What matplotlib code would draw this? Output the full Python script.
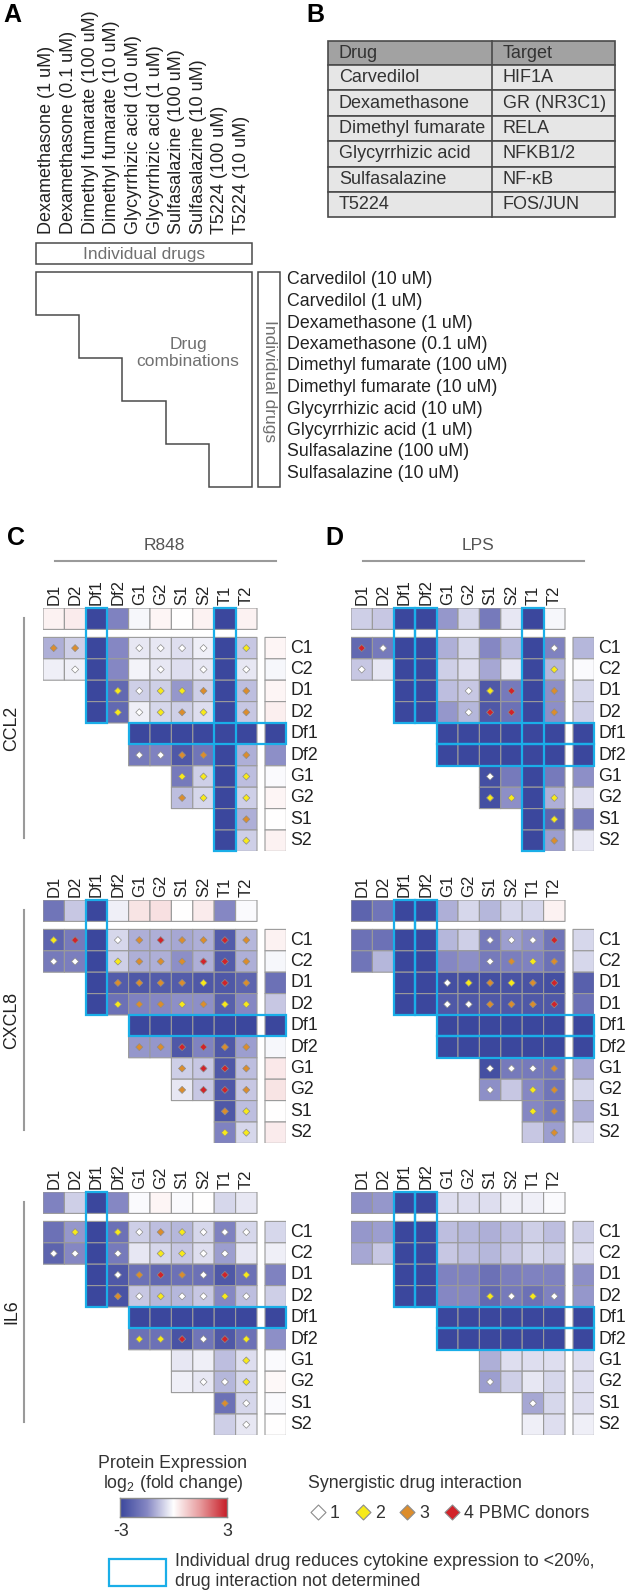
import numpy as np
import matplotlib
matplotlib.use("Agg")
import matplotlib.pyplot as plt
from matplotlib.colors import LinearSegmentedColormap
from matplotlib.patches import Rectangle, Polygon

W, H = 627, 1593
plt.rcParams["font.family"] = ["Liberation Sans", "DejaVu Sans"]
plt.rcParams["mathtext.fontset"] = "custom"
plt.rcParams["mathtext.rm"] = "Liberation Sans"
plt.rcParams["mathtext.it"] = "Liberation Sans:italic"

# ---- panel A / B text ----
COMBO_DRUGS = ["Dexamethasone (1 uM)", "Dexamethasone (0.1 uM)", "Dimethyl fumarate (100 uM)",
               "Dimethyl fumarate (10 uM)", "Glycyrrhizic acid (10 uM)", "Glycyrrhizic acid (1 uM)",
               "Sulfasalazine (100 uM)", "Sulfasalazine (10 uM)", "T5224 (100 uM)", "T5224 (10 uM)"]
ROW_DRUGS = ["Carvedilol (10 uM)", "Carvedilol (1 uM)", "Dexamethasone (1 uM)", "Dexamethasone (0.1 uM)",
             "Dimethyl fumarate (100 uM)", "Dimethyl fumarate (10 uM)", "Glycyrrhizic acid (10 uM)",
             "Glycyrrhizic acid (1 uM)", "Sulfasalazine (100 uM)", "Sulfasalazine (10 uM)"]
TABLE_DRUG = ["Carvedilol", "Dexamethasone", "Dimethyl fumarate", "Glycyrrhizic acid", "Sulfasalazine", "T5224"]
TABLE_TARGET = ["HIF1A", "GR (NR3C1)", "RELA", "NFKB1/2", "NF-\u03baB", "FOS/JUN"]

COLS = ["D1", "D2", "Df1", "Df2", "G1", "G2", "S1", "S2", "T1", "T2"]
ROWS = ["C1", "C2", "D1", "D2", "Df1", "Df2", "G1", "G2", "S1", "S2"]
ROWS_TYPO = ["C1", "C2", "D1", "D1", "Df1", "Df2", "G1", "G2", "S1", "S2"]

# ---- heatmap values: log2 fold change; rows of the triangle start at column 2*(row//2) ----
CCL2_R848_TOP = [0.2, 0.3, -3, -1.6, -0.1, 0.15, 0, 0.2, -3, 0.2]
CCL2_R848_RIGHT = [0.15, -0.1, 0.15, 0.25, -3, -1.4, -0.05, 0.15, 0, 0.2]
CCL2_R848_MAT = [[-1.0, -0.6, -3, -1.5, -0.3, -0.3, -0.4, -0.2, -3, -0.7],
                 [-0.2, -0.2, -3, -1.5, -0.15, -0.3, -0.4, -0.3, -3, -0.3],
                 [-3, -2.2, -0.6, -0.6, -1.3, -0.6, -3, -0.8],
                 [-3, -2.2, -0.2, -0.5, -0.6, -0.4, -3, -0.7],
                 [-3, -3, -3, -3, -3, -3],
                 [-1.8, -1.6, -2.6, -1.9, -3, -1.0],
                 [-1.8, -0.6, -3, -0.8],
                 [-0.8, -0.5, -3, -0.6],
                 [-3, -1.0],
                 [-3, -0.6]]
CCL2_R848_SYN = [[3, 3, 0, 0, 1, 1, 1, 1, 0, 2],
                 [0, 1, 0, 0, 0, 1, 0, 1, 0, 1],
                 [0, 2, 1, 2, 2, 3, 0, 3],
                 [0, 2, 1, 2, 3, 2, 0, 3],
                 [0, 0, 0, 0, 0, 0],
                 [1, 1, 3, 3, 0, 3],
                 [2, 2, 0, 2],
                 [3, 2, 0, 2],
                 [0, 3],
                 [0, 2]]
CCL2_R848_BCOLS, CCL2_R848_BROWS = ["Df1", "T1"], ["Df1"]

CCL2_LPS_TOP = [-0.6, -0.7, -3, -3, -1.3, -0.5, -1.8, -0.3, -3, -0.1]
CCL2_LPS_RIGHT = [-0.9, -0.05, -0.5, -0.6, -3, -3, -1.4, -0.4, -1.8, -0.3]
CCL2_LPS_MAT = [[-2.2, -1.8, -3, -3, -1.0, -0.5, -1.5, -0.9, -3, -1.6],
                [-0.7, -0.3, -3, -3, -0.6, -0.4, -1.1, -0.3, -3, -0.9],
                [-3, -3, -0.8, -0.7, -2.6, -1.8, -3, -1.4],
                [-3, -3, -1.3, -0.9, -2.6, -2.0, -3, -1.4],
                [-3, -3, -3, -3, -3, -3],
                [-3, -3, -3, -3, -3, -3],
                [-2.8, -1.8, -3, -1.8],
                [-2.8, -1.4, -3, -1.0],
                [-3, -2.3],
                [-3, -1.2]]
CCL2_LPS_SYN = [[4, 1, 0, 0, 0, 0, 0, 0, 0, 1],
                [1, 0, 0, 0, 0, 0, 0, 0, 0, 2],
                [0, 0, 0, 1, 2, 4, 0, 3],
                [0, 0, 0, 1, 4, 4, 0, 3],
                [0, 0, 0, 0, 0, 0],
                [0, 0, 0, 0, 0, 0],
                [1, 0, 0, 0],
                [2, 2, 0, 2],
                [0, 2],
                [0, 3]]
CCL2_LPS_BCOLS, CCL2_LPS_BROWS = ["Df1", "Df2", "T1"], ["Df1", "Df2"]

CXCL8_R848_TOP = [-1.9, -0.7, -3, -0.2, 0.4, 0.45, 0, 0.3, -1.5, -0.05]
CXCL8_R848_RIGHT = [0.2, -0.1, -2.0, -0.7, -3, -0.1, 0.35, 0.4, 0.02, 0.3]
CXCL8_R848_MAT = [[-2.3, -1.8, -3, -0.5, -1.0, -1.0, -1.1, -1.0, -2.5, -0.9],
                  [-1.8, -1.7, -3, -0.6, -1.0, -1.0, -1.4, -1.0, -2.5, -1.0],
                  [-3, -2.5, -2.6, -2.5, -2.5, -2.6, -2.6, -2.3],
                  [-3, -2.0, -1.6, -1.5, -1.4, -1.4, -2.4, -1.5],
                  [-3, -3, -3, -3, -3, -3],
                  [-1.3, -1.3, -2.6, -1.6, -2.6, -1.2],
                  [-0.6, -0.7, -2.6, -0.8],
                  [-0.3, -0.7, -2.6, -0.7],
                  [-2.6, -0.8],
                  [-1.6, -0.5]]
CXCL8_R848_SYN = [[2, 4, 0, 1, 3, 4, 3, 3, 4, 3],
                  [1, 1, 0, 2, 3, 3, 3, 4, 4, 3],
                  [0, 3, 3, 3, 3, 2, 4, 3],
                  [0, 2, 3, 3, 2, 3, 2, 2],
                  [0, 0, 0, 0, 0, 0],
                  [3, 3, 4, 4, 3, 3],
                  [3, 4, 4, 3],
                  [3, 4, 4, 3],
                  [3, 2],
                  [2, 2]]
CXCL8_R848_BCOLS, CXCL8_R848_BROWS = ["Df1"], ["Df1"]

CXCL8_LPS_TOP = [-2.3, -1.9, -3, -3, -1.0, -0.5, -0.9, -0.5, -0.5, 0.2]
CXCL8_LPS_RIGHT = [-0.5, -0.5, -2.4, -2.0, -3, -3, -1.1, -0.5, -1.0, -0.4]
CXCL8_LPS_MAT = [[-2.0, -2.0, -3, -3, -0.9, -0.6, -1.8, -1.2, -1.4, -1.9],
                 [-1.9, -0.9, -3, -3, -1.5, -1.4, -1.8, -1.7, -1.6, -2.0],
                 [-3, -3, -2.8, -2.8, -2.8, -2.7, -2.7, -2.8],
                 [-3, -3, -2.6, -2.6, -2.6, -2.6, -2.6, -2.6],
                 [-3, -3, -3, -3, -3, -3],
                 [-3, -3, -3, -3, -3, -3],
                 [-2.8, -1.8, -1.8, -1.9],
                 [-1.4, -0.7, -1.5, -1.9],
                 [-1.5, -1.8],
                 [-0.7, -1.2]]
CXCL8_LPS_SYN = [[0, 0, 0, 0, 0, 0, 1, 1, 1, 4],
                 [0, 0, 0, 0, 0, 0, 1, 3, 2, 3],
                 [0, 0, 1, 2, 3, 2, 3, 4],
                 [0, 0, 1, 1, 3, 3, 3, 4],
                 [0, 0, 0, 0, 0, 0],
                 [0, 0, 0, 0, 0, 0],
                 [1, 1, 1, 3],
                 [1, 0, 2, 3],
                 [2, 3],
                 [0, 3]]
CXCL8_LPS_BCOLS, CXCL8_LPS_BROWS = ["Df1", "Df2"], ["Df1", "Df2"]

IL6_R848_TOP = [-1.6, -0.6, -3, -1.5, -0.05, 0.15, -0.05, 0, -0.5, -0.3]
IL6_R848_RIGHT = [-0.5, -0.2, -1.6, -0.6, -3, -1.4, -0.05, 0.1, -0.05, 0]
IL6_R848_MAT = [[-2.0, -1.3, -3, -2.0, -0.6, -0.8, -0.9, -0.5, -1.6, -0.5],
                [-2.3, -1.5, -3, -1.8, -0.3, -0.5, -0.7, -0.4, -1.2, -0.3],
                [-3, -2.6, -2.0, -2.2, -2.0, -2.0, -2.6, -2.0],
                [-3, -2.7, -0.7, -0.9, -0.9, -0.7, -1.5, -0.8],
                [-3, -3, -3, -3, -3, -3],
                [-2.0, -2.0, -2.7, -1.9, -2.6, -2.0],
                [-0.3, -0.2, -0.8, -0.4],
                [-0.2, -0.3, -0.9, -0.5],
                [-2.0, -0.5],
                [-0.6, -0.3]]
IL6_R848_SYN = [[0, 2, 0, 2, 1, 3, 2, 1, 1, 1],
                [1, 1, 0, 1, 0, 2, 2, 1, 1, 0],
                [0, 1, 3, 4, 3, 1, 4, 2],
                [0, 3, 1, 2, 1, 1, 2, 1],
                [0, 0, 0, 0, 0, 0],
                [2, 2, 4, 1, 4, 2],
                [0, 0, 0, 2],
                [0, 1, 1, 2],
                [3, 1],
                [0, 1]]
IL6_R848_BCOLS, IL6_R848_BROWS = ["Df1"], ["Df1"]

IL6_LPS_TOP = [-1.4, -1.3, -3, -3, -0.4, -0.4, -0.4, -0.2, -0.2, -0.05]
IL6_LPS_RIGHT = [-0.6, -0.4, -1.4, -1.3, -3, -3, -0.4, -0.4, -0.4, -0.2]
IL6_LPS_MAT = [[-1.3, -1.2, -3, -3, -0.8, -0.9, -1.0, -0.8, -0.6, -0.8],
               [-1.1, -0.7, -3, -3, -0.7, -0.8, -0.9, -0.7, -0.5, -0.6],
               [-3, -3, -1.6, -1.6, -2.0, -1.7, -1.6, -1.6],
               [-3, -3, -1.5, -1.5, -2.2, -1.8, -2.0, -1.6],
               [-3, -3, -3, -3, -3, -3],
               [-3, -3, -3, -3, -3, -3],
               [-1.0, -0.4, -0.4, -0.4],
               [-1.2, -0.6, -0.3, -0.5],
               [-1.1, -0.5],
               [-0.2, -0.4]]
IL6_LPS_SYN = [[0, 0, 0, 0, 0, 0, 0, 0, 0, 0],
               [0, 0, 0, 0, 0, 0, 0, 0, 0, 0],
               [0, 0, 0, 0, 0, 0, 0, 0],
               [0, 0, 0, 0, 2, 1, 2, 1],
               [0, 0, 0, 0, 0, 0],
               [0, 0, 0, 0, 0, 0],
               [0, 0, 0, 0],
               [1, 0, 0, 0],
               [1, 0],
               [0, 0]]
IL6_LPS_BCOLS, IL6_LPS_BROWS = ["Df1", "Df2"], ["Df1", "Df2"]

CYTOKINES = ["CCL2", "CXCL8", "IL6"]
STIMULI = ["R848", "LPS"]

# ---- style ----
CMAP = LinearSegmentedColormap.from_list(
    "expr", [(0, "#3b479d"), (0.25, "#8587c3"), (0.5, "#ffffff"), (0.75, "#e79b9d"), (1, "#c8202a")])
SYN_COLORS = {1: "#ffffff", 2: "#f7ea1a", 3: "#dc8d2c", 4: "#d2232a"}
BLUE = "#1aaee8"
EDGE = "#9a9a9a"
TXT = "#222222"
GREY_TXT = "#707070"
BOX = "#4a4a4a"
CELL = 21.4
GAP = 8 / CELL

fig = plt.figure(figsize=(W / 100, H / 100), dpi=100)
ov = fig.add_axes([0, 0, 1, 1])
ov.set_xlim(0, W)
ov.set_ylim(H, 0)
ov.axis("off")


def px_axes(x, y, w, h):
    return fig.add_axes([x / W, 1 - (y + h) / H, w / W, h / H])


# ---------------- panel A ----------------
ov.text(12, 15, "A", fontsize=18, fontweight="bold", ha="center", va="center")
for i, lab in enumerate(COMBO_DRUGS):
    ov.text(47 + 21.6 * i, 234, lab, rotation=90, ha="center", va="bottom", fontsize=13, color=TXT)
ov.add_patch(Rectangle((36, 243), 216, 21, fill=False, ec=BOX, lw=1.1))
ov.text(144, 254, "Individual drugs", ha="center", va="center", fontsize=12.5, color=GREY_TXT)
x0, y0, cw, rh = 36, 272, 21.6, 21.5
pts = [(x0, y0), (x0 + 10 * cw, y0), (x0 + 10 * cw, y0 + 10 * rh)]
for k in range(4, -1, -1):
    pts.append((x0 + 2 * k * cw, y0 + (2 * k + 2) * rh))
    pts.append((x0 + 2 * k * cw, y0 + 2 * k * rh))
ov.add_patch(Polygon(pts, closed=True, fill=False, ec=BOX, lw=1.1))
ov.text(188, 353, "Drug\ncombinations", ha="center", va="center", fontsize=12.5, color=GREY_TXT,
        linespacing=1.25)
ov.add_patch(Rectangle((258, 272), 22, 215, fill=False, ec=BOX, lw=1.1))
ov.text(269, 381, "Individual drugs", rotation=-90, ha="center", va="center", fontsize=12.5, color=GREY_TXT)
for i, lab in enumerate(ROW_DRUGS):
    ov.text(287, 280 + 21.5 * i, lab, ha="left", va="center", fontsize=12.8, color=TXT)

# ---------------- panel B ----------------
ov.text(315, 15, "B", fontsize=18, fontweight="bold", ha="center", va="center")
tx0, tx1, tmid, ty0, hh, rhh = 328, 615, 492, 41, 24, 25.4
ov.add_patch(Rectangle((tx0, ty0), tx1 - tx0, hh, fc="#a2a2a2", ec=BOX, lw=1.2))
ov.text(tx0 + 11, ty0 + hh / 2, "Drug", va="center", fontsize=13, color="#333333")
ov.text(tmid + 11, ty0 + hh / 2, "Target", va="center", fontsize=13, color="#333333")
for i, (d, t) in enumerate(zip(TABLE_DRUG, TABLE_TARGET)):
    yy = ty0 + hh + rhh * i
    ov.add_patch(Rectangle((tx0, yy), tx1 - tx0, rhh, fc="#e6e6e6", ec=BOX, lw=1.2))
    ov.text(tx0 + 11, yy + rhh / 2, d, va="center", fontsize=13, color="#333333")
    ov.text(tmid + 11, yy + rhh / 2, t, va="center", fontsize=13, color="#333333")
ov.plot([tmid, tmid], [ty0, ty0 + hh + 6 * rhh], color=BOX, lw=1.2)


# ---------------- panels C / D ----------------
def draw_block(x0, ytop, top, mat, syn, right, bcols, brows, rlabels):
    xmax = 10 + GAP + 1
    ymin = -(1 + GAP)
    ax = px_axes(x0, ytop, xmax * CELL, (10 - ymin) * CELL)
    ax.set_xlim(0, xmax)
    ax.set_ylim(10, ymin)
    ax.axis("off")
    grid = np.full((10, 10), np.nan)
    marks = np.zeros((10, 10), int)
    for r, (vals, ss) in enumerate(zip(mat, syn)):
        start = 2 * (r // 2)
        grid[r, start:] = vals
        marks[r, start:] = ss
    kw = dict(cmap=CMAP, vmin=-3, vmax=3, edgecolors=EDGE, linewidth=0.8)
    ax.pcolor(np.arange(11), np.arange(11), np.ma.masked_invalid(grid), **kw)
    ax.pcolor(np.arange(11), [ymin, -GAP], np.array([top]), **kw)
    ax.pcolor([10 + GAP, xmax], np.arange(11), np.array(right)[:, None], **kw)
    rr, cc = np.nonzero(marks)
    ax.scatter(cc + 0.5, rr + 0.5, marker="D", s=13, c=[SYN_COLORS[m] for m in marks[rr, cc]],
               edgecolors="#8c8c8c", linewidths=0.5, zorder=4)
    for name in bcols:
        c = COLS.index(name)
        bottom = min(10, 2 * (c // 2) + 2)
        ax.add_patch(Rectangle((c, ymin), 1, bottom - ymin, fill=False, ec=BLUE, lw=1.6,
                               zorder=5, clip_on=False))
    for name in brows:
        r = ROWS.index(name)
        start = 2 * (r // 2)
        ax.add_patch(Rectangle((start, r), xmax - start, 1, fill=False, ec=BLUE, lw=1.6,
                               zorder=5, clip_on=False))
    for c, lab in enumerate(COLS):
        ax.text(c + 0.5, ymin - 0.12, lab, rotation=90, ha="center", va="bottom", fontsize=12, color=TXT)
    for r, lab in enumerate(rlabels):
        ax.text(xmax + 0.18, r + 0.5, lab, ha="left", va="center", fontsize=12.8, color=TXT)


PANEL_X = {"R848": 43, "LPS": 351}
BLOCK_TOP = {"CCL2": 608, "CXCL8": 900, "IL6": 1192}
DATA = globals()

for letter, stim, lx, cx, l0, l1 in [("C", "R848", 16, 164, 55, 276), ("D", "LPS", 334, 478, 363, 584)]:
    ov.text(lx, 538, letter, fontsize=18, fontweight="bold", ha="center", va="center")
    ov.text(cx, 546, stim, fontsize=12.5, ha="center", va="center", color="#555555")
    ov.plot([l0, l1], [561, 561], color="#9a9a9a", lw=1.5)

for cyto in CYTOKINES:
    yt = BLOCK_TOP[cyto]
    ov.plot([24, 24], [yt + 10, yt + 230], color="#9a9a9a", lw=1.5)
    ov.text(12, yt + 120, cyto, rotation=90, ha="center", va="center", fontsize=12.8, color=TXT)
    for stim in STIMULI:
        key = f"{cyto}_{stim}_"
        labels = ROWS_TYPO if (cyto, stim) == ("CXCL8", "LPS") else ROWS
        draw_block(PANEL_X[stim], yt, DATA[key + "TOP"], DATA[key + "MAT"], DATA[key + "SYN"],
                   DATA[key + "RIGHT"], DATA[key + "BCOLS"], DATA[key + "BROWS"], labels)

# ---------------- legends ----------------
ov.text(173, 1463, "Protein Expression", ha="center", va="center", fontsize=12.8, color="#333333")
ov.text(173, 1483, "log$_2$ (fold change)", ha="center", va="center", fontsize=12.8, color="#333333")
cax = px_axes(120, 1498, 107, 19)
cax.imshow(np.linspace(-3, 3, 256)[None, :], cmap=CMAP, aspect="auto", vmin=-3, vmax=3)
cax.set_xticks([])
cax.set_yticks([])
for sp in cax.spines.values():
    sp.set_color("#8c8c8c")
    sp.set_linewidth(1.0)
ov.text(121, 1531, "-3", ha="center", va="center", fontsize=12.8, color="#333333")
ov.text(227, 1531, "3", ha="center", va="center", fontsize=12.8, color="#333333")

ov.text(308, 1483, "Synergistic drug interaction", ha="left", va="center", fontsize=12.8, color="#333333")
SYN_LEVELS = [1, 2, 3, 4]
SYN_LABELS = ["1", "2", "3", "4 PBMC donors"]
for k, (lvl, lab) in enumerate(zip(SYN_LEVELS, SYN_LABELS)):
    xd = 318 + 44.7 * k
    ov.scatter([xd], [1512], marker="D", s=58, c=SYN_COLORS[lvl], edgecolors="#8c8c8c", linewidths=0.8)
    ov.text(xd + 12, 1513, lab, ha="left", va="center", fontsize=12.8, color="#333333")

ov.add_patch(Rectangle((109, 1559), 57, 27, fill=False, ec=BLUE, lw=1.6))
ov.text(175, 1562, "Individual drug reduces cytokine expression to <20%,", ha="left", va="center",
        fontsize=12.8, color="#333333")
ov.text(175, 1581, "drug interaction not determined", ha="left", va="center", fontsize=12.8, color="#333333")

fig.savefig("out.png", dpi=100)
